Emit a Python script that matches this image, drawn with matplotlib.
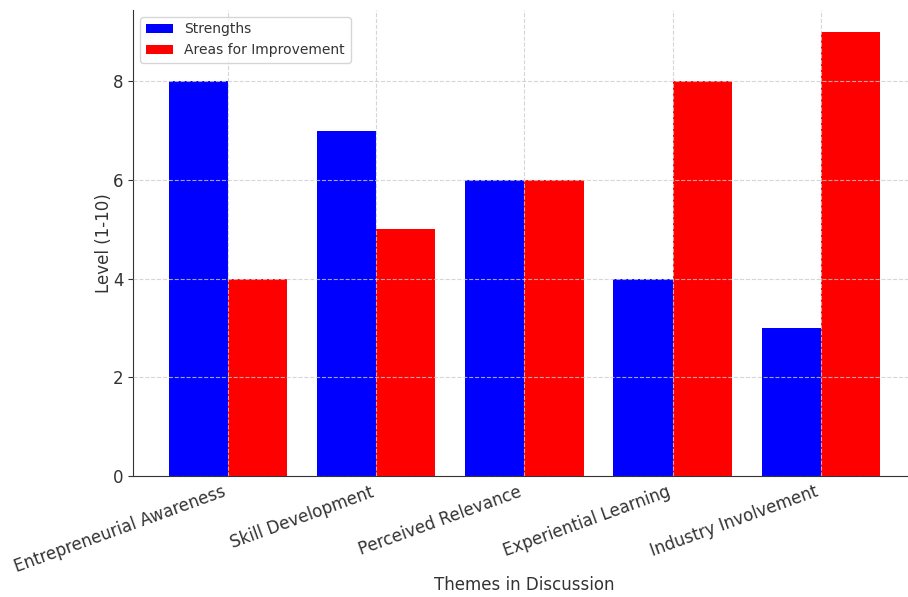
import matplotlib
matplotlib.use("Agg")
import matplotlib.pyplot as plt
import numpy as np

themes = ["Entrepreneurial Awareness", "Skill Development", "Perceived Relevance",
          "Experiential Learning", "Industry Involvement"]
strengths = [8, 7, 6, 4, 3]
improvement = [4, 5, 6, 8, 9]

plt.rcParams['font.family'] = ['DejaVu Sans']
text_col = "#333333"

fig = plt.figure(figsize=(9.08, 5.97), dpi=100)
ax = fig.add_axes([0.1465, 0.2027, 0.862, 0.7806])

x = np.arange(len(themes))
w = 0.4
ax.bar(x - w / 2, strengths, w, color="blue", label="Strengths")
ax.bar(x + w / 2, improvement, w, color="red", label="Areas for Improvement")

ax.set_xticks(x)
ax.set_xticklabels(themes, rotation=20, ha="right", fontsize=12, color=text_col)
ax.set_yticks([0, 2, 4, 6, 8])
ax.tick_params(axis="y", labelsize=12, labelcolor=text_col, color=text_col)
ax.tick_params(axis="x", length=0, pad=5)

ax.set_xlabel("Themes in Discussion", fontsize=12, color=text_col, labelpad=0)
ax.set_ylabel("Level (1-10)", fontsize=12, color=text_col, labelpad=0)

ax.grid(True, linestyle="--", color="#cccccc", linewidth=0.8, alpha=0.8)
ax.set_axisbelow(False)
for s in ["top", "right"]:
    ax.spines[s].set_visible(False)
for s in ["left", "bottom"]:
    ax.spines[s].set_color(text_col)

leg = ax.legend(loc="upper left", fontsize=10)
for t in leg.get_texts():
    t.set_color(text_col)

fig.savefig("out.png", dpi=100)
